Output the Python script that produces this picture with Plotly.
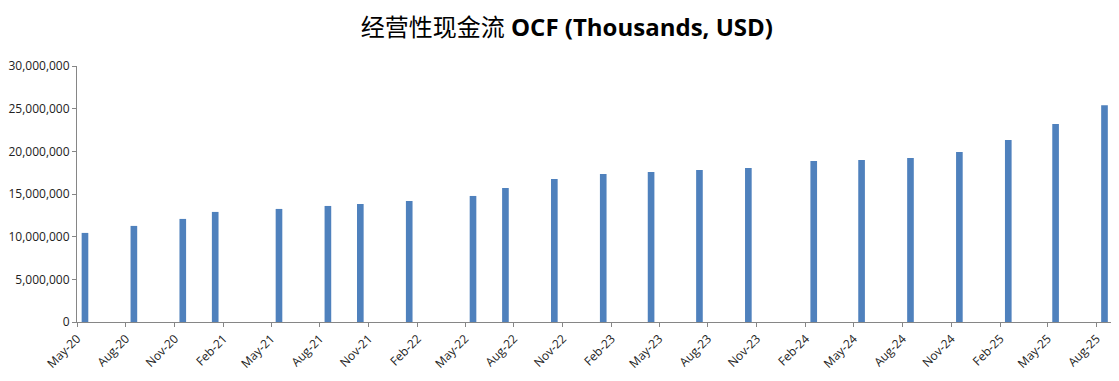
import pandas as pd
import plotly.graph_objects as go

# Data: report month and operating cash flow (thousands USD)
months = ["2020-05", "2020-08", "2020-11", "2021-01", "2021-05", "2021-08", "2021-10",
          "2022-01", "2022-05", "2022-07", "2022-10", "2023-01", "2023-04", "2023-07",
          "2023-10", "2024-02", "2024-05", "2024-08", "2024-11", "2025-02", "2025-05",
          "2025-08"]
ocf = [10440000, 11260000, 12080000, 12900000, 13250000, 13600000, 13830000,
       14180000, 14770000, 15700000, 16750000, 17340000, 17570000, 17800000,
       18040000, 18860000, 18980000, 19210000, 19910000, 21320000, 23190000,
       25410000]

title_cn = "经营性现金流"
title_en = "OCF (Thousands, USD)"

# bars centered in their month slot
x_dates = [pd.Timestamp(m + "-01") + pd.Timedelta(days=15) for m in months]

fig = go.Figure(go.Bar(
    x=x_dates, y=ocf,
    marker=dict(color="#4F81BD", line=dict(width=0)),
    width=12.5 * 86400000,
))

# page body has an 8px margin, so the figure is sized to fit the window
W, H = 1111, 373
axis_col = "#868686"
fig.update_layout(
    width=W, height=H,
    margin=dict(l=69, r=6, t=58, b=59),
    paper_bgcolor="white", plot_bgcolor="white",
    showlegend=False,
    title=dict(
        text=f"<span style='font-family:Noto Sans CJK SC;font-weight:normal'>{title_cn}</span> <b>{title_en}</b>",
        x=0.503, xanchor="center", y=1 - 20 / H, yanchor="middle",
        font=dict(family="Open Sans, Noto Sans CJK SC", size=24, color="#000000"),
        automargin=False,
    ),
    xaxis=dict(
        type="date",
        range=["2020-05-01", "2025-09-01"],
        tick0="2020-05-01", dtick="M3", tickformat="%b-%y",
        tickangle=-45,
        showgrid=False, zeroline=False,
        showline=True, linecolor=axis_col, linewidth=1,
        ticks="outside", ticklen=4, tickcolor=axis_col,
        tickfont=dict(family="Open Sans", size=12, color="#222222"),
        automargin=False,
    ),
    yaxis=dict(
        range=[0, 30000000], dtick=5000000,
        tickformat=",d",
        showgrid=False, zeroline=False,
        showline=True, linecolor=axis_col, linewidth=1,
        ticks="outside", ticklen=4, tickcolor=axis_col,
        tickfont=dict(family="Open Sans", size=12, color="#222222"),
        automargin=False,
    ),
)

fig.write_html("out.html")
